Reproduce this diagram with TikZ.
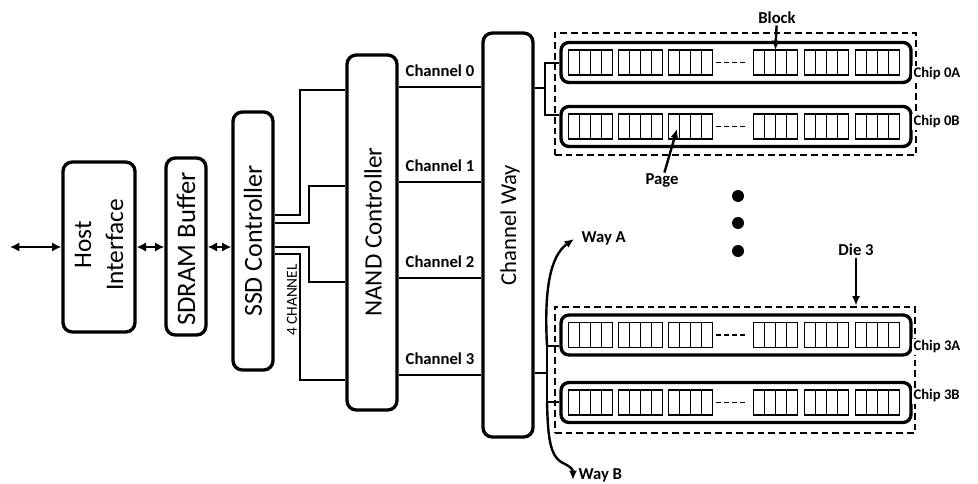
\documentclass[tikz,border=0pt]{standalone}
\usepackage{fontspec}
\setmainfont{Carlito}
\usetikzlibrary{arrows.meta,calc}

\begin{document}
\begin{tikzpicture}[
    x=0.75pt, y=-0.75pt,
    unit/.style={draw, line width=2.5pt, rounded corners=7pt, inner sep=0pt},
    unitlabel/.style={rotate=90, align=center, font=\fontsize{19}{24}\selectfont},
    wire/.style={line width=2.2pt},
    pointer/.style={line width=1.8pt, -{Latex[length=7pt,width=6pt]}},
    twoway/.style={line width=2pt, {Latex[length=7pt,width=7pt]}-{Latex[length=7pt,width=7pt]}},
    chip/.style={draw, line width=2.5pt, rounded corners=6pt, minimum width=262.5pt, minimum height=30pt, inner sep=0pt},
    die/.style={draw, line width=2.2pt, dash pattern=on 5pt off 3pt, inner sep=0pt},
    page/.style={line width=0.8pt},
    tag/.style={font=\bfseries\fontsize{12.5}{14}\selectfont, inner sep=1pt},
    chiptag/.style={font=\bfseries\fontsize{11}{12}\selectfont, anchor=west, fill=white, inner sep=1pt},
    dot/.style={circle, fill, minimum size=9pt, inner sep=0pt},
  ]
  \useasboundingbox (0,0) rectangle (978,484);

  % controller chain
  \node[unit, minimum width=54pt, minimum height=127.5pt] (host) at (99,247) {};
  \node[unit, minimum width=30pt, minimum height=132.75pt] (sdram) at (186,246.5) {};
  \node[unit, minimum width=30pt, minimum height=193.5pt] (ssd) at (253,241) {};
  \node[unit, minimum width=37.5pt, minimum height=266.25pt] (nand) at (372,232.5) {};
  \node[unit, minimum width=37.5pt, minimum height=303pt] (chway) at (508,235) {};

  \node[unitlabel] (hostlbl) at (99,245) {Host\\Interface};
  \node[unitlabel, font=\fontsize{20}{24}\selectfont] (sdramlbl) at (186,249) {SDRAM Buffer};
  \node[unitlabel, font=\fontsize{19.5}{24}\selectfont] (ssdlbl) at (253,241) {SSD Controller};
  \node[unitlabel, font=\fontsize{18.7}{24}\selectfont] (nandlbl) at (373,232) {NAND Controller};
  \node[unitlabel, font=\fontsize{17}{24}\selectfont] (chwaylbl) at (510,225) {Channel Way};

  \coordinate (ext) at (10,247);
  \draw[twoway] (ext) -- (host.west);
  \draw[twoway] (host.east) -- (host.east -| sdram.west);
  \draw[twoway] (sdram.east |- host.east) -- (host.east -| ssd.west);

  % ssd to nand, 4 channels
  \draw[wire] (ssd.east |- 0,215) -| (300,90) -- (nand.west |- 0,90);
  \draw[wire] (ssd.east |- 0,223) -| (309,186) -- (nand.west |- 0,186);
  \draw[wire] (ssd.east |- 0,247) -| (309,282) -- (nand.west |- 0,282);
  \draw[wire] (ssd.east |- 0,254) -| (300,380) -- (nand.west |- 0,380);
  \node[rotate=90, font=\fontsize{11.5}{12}\selectfont, inner sep=0pt] (fourch) at (292,300) {4 CHANNEL};

  % nand to channel way
  \foreach \i/\y in {0/87,1/182,2/278,3/375}
    \draw[wire] (nand.east |- 0,\y) -- node[tag, above=5.5pt] (ch\i) {Channel \i} (chway.west |- 0,\y);

  % chips
  \node[chip] (chip0a) at (736,62.5) {};
  \node[chip] (chip0b) at (736,126.5) {};
  \node[chip] (chip3a) at (736,335) {};
  \node[chip] (chip3b) at (736,402.5) {};
  \node[die, minimum width=270.75pt, minimum height=91.5pt] (die0) at (735.5,94) {};
  \node[die, minimum width=270pt, minimum height=94.5pt] (die3) at (735,370) {};

  \foreach \c in {chip0a,chip0b,chip3a,chip3b} {
    \foreach \bx in {9,59,109,194,245,296} {
      \foreach \p in {0,11,22,33}
        \draw[page] ($(\c.west)+(\bx+\p,-12.5)$) rectangle ++(11,25);
    }
    \draw[page, dash pattern=on 3.8pt off 2.2pt] ($(\c.west)+(157,0)$) -- ++(30,0);
  }

  \node[chiptag] (chip0alb) at (912,74) {Chip 0A};
  \node[chiptag] (chip0blb) at (912,122) {Chip 0B};
  \node[chiptag] (chip3alb) at (912,347) {Chip 3A};
  \node[chiptag] (chip3blb) at (912,396) {Chip 3B};

  % way wiring
  \coordinate (c0a) at (545,63);
  \coordinate (c0b) at (545,115);
  \draw[wire] (chway.east |- 0,88) -- (c0a |- 0,88);
  \draw[wire] (chip0a.west |- c0a) -- (c0a) -- (c0b) -- (chip0b.west |- c0b);
  \coordinate (wa) at (547,346);
  \coordinate (wb) at (547,402);
  \draw[wire] (chway.east |- 0,373) -- (wa |- 0,373);
  \draw[wire] (chip3a.west |- wa) -- (wa) -- (wb) -- (chip3b.west |- wb);

  \coordinate (watip) at (574,239);
  \coordinate (wbtip) at (573,480);
  \draw[pointer] (wa) .. controls (544,290) and (550,256) .. (watip);
  \draw[pointer] (wb) .. controls (548,440) and (550,458) .. (565,464) .. controls (571,467) and (573,470) .. (wbtip);
  \node[tag, anchor=west] (wayalbl) at (580,238) {Way A};
  \node[tag, anchor=west] (wayblbl) at (577,475) {Way B};

  % pointers
  \node[tag] (blocklbl) at (777,18) {Block};
  \coordinate (blk) at ($(chip0a.west)+(216,-12.5)$);
  \draw[pointer] (blocklbl) -- (blk);
  \node[tag] (pagelbl) at (662,181) {Page};
  \coordinate (pg) at (677,129);
  \draw[pointer] (pagelbl) -- (pg);
  \node[tag] (dielbl) at (856,250) {Die 3};
  \draw[pointer] (dielbl) -- (dielbl |- die3.north);

  % more dies
  \node[dot] (dot1) at (738,196) {};
  \node[dot] (dot2) at (738,223) {};
  \node[dot] (dot3) at (738,251) {};
\end{tikzpicture}
\end{document}
